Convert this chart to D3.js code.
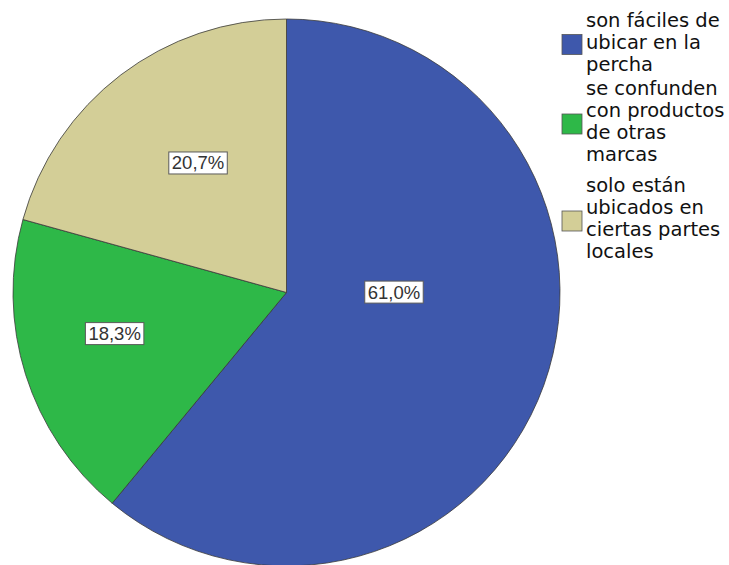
<!DOCTYPE html>
<html>
<head>
<meta charset="utf-8">
<script src="https://cdn.jsdelivr.net/npm/d3@7"></script>
<style>
  html, body { margin: 0; padding: 0; background: #ffffff; }
  svg { display: block; }
</style>
</head>
<body>
<svg id="chart" width="729" height="565"></svg>
<script>
// Category names (legend text, one array of lines per category)
const categories = [
  ["son fáciles de", "ubicar en la", "percha"],
  ["se confunden", "con productos", "de otras", "marcas"],
  ["solo están", "ubicados en", "ciertas partes", "locales"]
];
// Percent of respondents per category
const percents = [61.0, 18.3, 20.7];
// Slice fill colours
const colors = ["#3e58ac", "#2eb848", "#d3ce97"];

// Layout
const cx = 286.5, cy = 292.5, R = 273.5;
// Label anchors: angle (degrees clockwise from 12 o'clock) and radius fraction
const labelAngle = [89.7, 256.6, 325.7];
const labelRadius = [0.393, 0.646, 0.574];
// Legend: first baseline of each entry, line pitch
const legendStart = [26.5, 95, 192];
const lineH = 22;

const svg = d3.select("#chart");
const g = svg.append("g").attr("transform", `translate(${cx},${cy})`);

const pie = d3.pie().sort(null).value(d => d).startAngle(0).endAngle(2 * Math.PI);
const arcs = pie(percents);
const arc = d3.arc().innerRadius(0).outerRadius(R);

g.selectAll("path.slice")
  .data(arcs)
  .enter().append("path")
  .attr("class", "slice")
  .attr("d", arc)
  .attr("fill", (d, i) => colors[i])
  .attr("stroke", "#3a3a3a")
  .attr("stroke-width", 0.8)
  .attr("stroke-linejoin", "round");

// Percentage labels in white boxes
const fmt = v => d3.format(".1f")(v).replace(".", ",") + "%";
arcs.forEach((d, i) => {
  const a = labelAngle[i] * Math.PI / 180;
  const r = labelRadius[i] * R;
  const x = r * Math.sin(a), y = -r * Math.cos(a);
  const lg = g.append("g").attr("transform", `translate(${x},${y})`);
  const rect = lg.append("rect").attr("fill", "#ffffff").attr("stroke", "#5a5a5a").attr("stroke-width", 1);
  const t = lg.append("text")
    .attr("text-anchor", "middle")
    .attr("dy", "0.36em")
    .attr("font-family", "Liberation Sans, Arial, sans-serif")
    .attr("font-size", 18.5)
    .attr("fill", "#333333")
    .text(fmt(d.data));
  const bb = t.node().getBBox();
  rect.attr("x", bb.x - 3).attr("y", bb.y - 0.5)
      .attr("width", bb.width + 6).attr("height", bb.height + 1);
});

// Legend
const legend = svg.append("g").attr("class", "legend");
categories.forEach((lines, i) => {
  const first = legendStart[i];
  lines.forEach((ln, j) => {
    legend.append("text")
      .attr("x", 586).attr("y", first + j * lineH)
      .attr("font-family", "DejaVu Sans, sans-serif")
      .attr("font-size", 19.5)
      .attr("fill", "#111111")
      .text(ln);
  });
  const last = first + (lines.length - 1) * lineH;
  const mid = (first + last) / 2 - 4;
  legend.append("rect")
    .attr("x", 562).attr("y", mid - 10)
    .attr("width", 20).attr("height", 20)
    .attr("fill", colors[i])
    .attr("stroke", "#555")
    .attr("stroke-width", 0.8);
});
</script>
</body>
</html>
